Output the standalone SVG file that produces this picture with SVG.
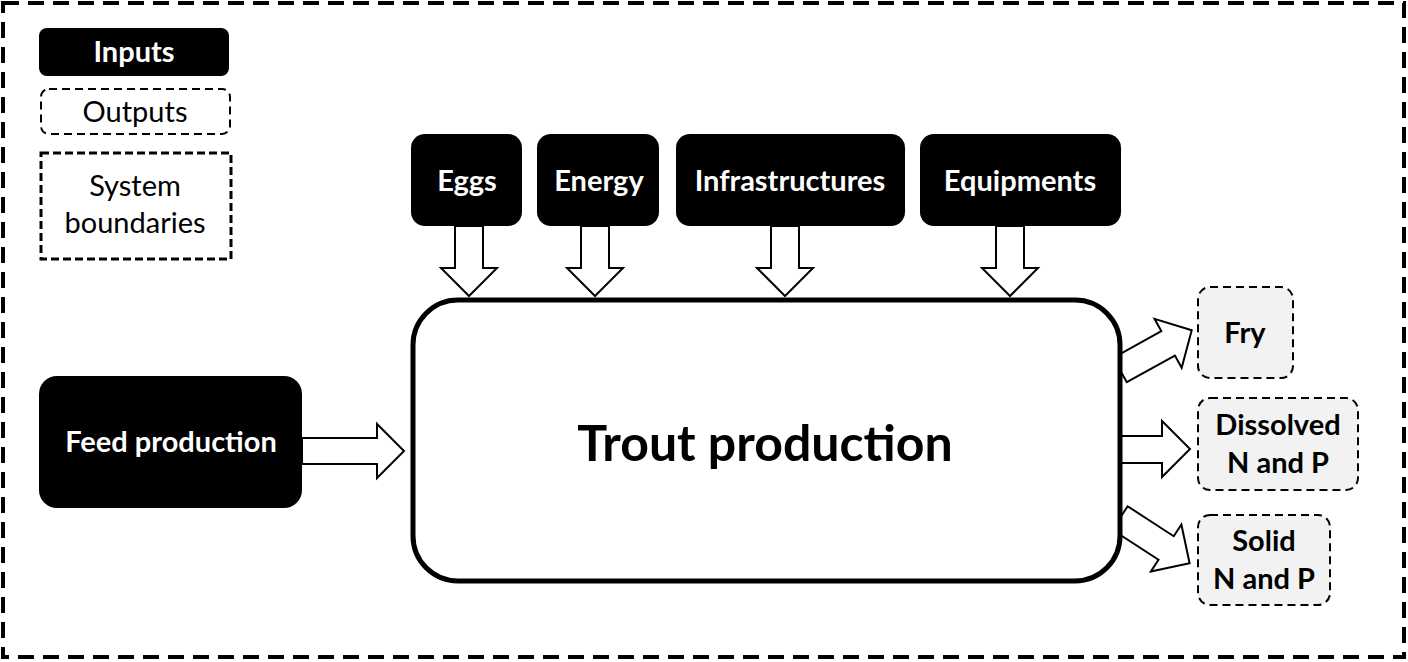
<svg xmlns="http://www.w3.org/2000/svg" width="1408" height="662" viewBox="0 0 1408 662">
<style>
.inp{fill:#000}
.out{fill:#f2f2f2;stroke:#000;stroke-width:2;stroke-dasharray:8 5}
.arr{fill:#fff;stroke:#000;stroke-width:2;stroke-linejoin:miter}
.tw{font-family:Lato,"Open Sans","Liberation Sans",sans-serif;font-weight:bold;fill:#fff;text-anchor:middle}
.tb{font-family:Lato,"Open Sans","Liberation Sans",sans-serif;font-weight:bold;fill:#000;text-anchor:middle}
.tn{font-family:Lato,"Open Sans","Liberation Sans",sans-serif;fill:#000;text-anchor:middle}
</style>
<defs>
<path id="ah" d="M0,-14 L42,-14 L42,-28 L70,0 L42,28 L42,14 L0,14 Z"/>
</defs>
<rect x="0" y="0" width="1408" height="662" fill="#fff"/>
<g id="boundary">
<rect x="3" y="3" width="1401" height="654" fill="none" stroke="#000" stroke-width="4" stroke-dasharray="16 9"/>
</g>
<g id="legend">
<rect x="39" y="28" width="190" height="48" rx="8" class="inp"/>
<text x="134" y="62" class="tw" font-size="29">Inputs</text>
<rect x="41" y="89" width="189" height="45" rx="8" fill="#fff" stroke="#000" stroke-width="2" stroke-dasharray="8 5"/>
<text x="135" y="122" class="tn" font-size="29">Outputs</text>
<rect x="41" y="153" width="190" height="106" fill="#fff" stroke="#000" stroke-width="3" stroke-dasharray="8 4"/>
<text x="135" y="196" class="tn" font-size="29">System</text>
<text x="135" y="233" class="tn" font-size="29">boundaries</text>
</g>
<g id="connectors">
<use href="#ah" class="arr" transform="translate(469,226) rotate(90)"/>
<use href="#ah" class="arr" transform="translate(595,226) rotate(90)"/>
<use href="#ah" class="arr" transform="translate(785,226) rotate(90)"/>
<use href="#ah" class="arr" transform="translate(1010,226) rotate(90)"/>
<path class="arr" d="M302,438 L377,438 L377,424 L404,451 L377,478 L377,464 L302,464 Z"/>
<path class="arr" d="M1120,436 L1162,436 L1162,421 L1190,449 L1162,477 L1162,463 L1120,463 Z"/>
<path class="arr" transform="translate(1120,370) rotate(-29)" d="M0,-14 L55,-14 L55,-28 L82,0 L55,28 L55,14 L0,14 Z"/>
<path class="arr" transform="translate(1120,518) rotate(33)" d="M0,-14 L55,-14 L55,-28 L83,0 L55,28 L55,14 L0,14 Z"/>
</g>
<g id="eggs">
<rect x="411" y="134" width="111" height="92" rx="14" class="inp"/>
<text x="467" y="191" class="tw" font-size="29">Eggs</text>
</g>
<g id="energy">
<rect x="537" y="134" width="122" height="92" rx="14" class="inp"/>
<text x="599" y="191" class="tw" font-size="29">Energy</text>
</g>
<g id="infrastructures">
<rect x="676" y="134" width="229" height="92" rx="14" class="inp"/>
<text x="790" y="191" class="tw" font-size="29">Infrastructures</text>
</g>
<g id="equipments">
<rect x="920" y="134" width="201" height="92" rx="14" class="inp"/>
<text x="1020" y="191" class="tw" font-size="29">Equipments</text>
</g>
<g id="feed">
<rect x="39" y="376" width="263" height="132" rx="18" class="inp"/>
<text x="171" y="452" class="tw" font-size="29">Feed production</text>
</g>
<g id="trout">
<rect x="413" y="300" width="707" height="281" rx="45" fill="#fff" stroke="#000" stroke-width="5"/>
<text x="765" y="461" class="tb" font-size="50">Trout production</text>
</g>
<g id="fry">
<rect x="1198" y="287" width="95" height="91" rx="12" class="out"/>
<text x="1245" y="343" class="tb" font-size="29">Fry</text>
</g>
<g id="dissolved">
<rect x="1198" y="398" width="160" height="92" rx="12" class="out"/>
<text x="1278" y="435" class="tb" font-size="29">Dissolved</text>
<text x="1278" y="473" class="tb" font-size="29">N and P</text>
</g>
<g id="solid">
<rect x="1198" y="515" width="132" height="90" rx="12" class="out"/>
<text x="1264" y="551" class="tb" font-size="29">Solid</text>
<text x="1264" y="589" class="tb" font-size="29">N and P</text>
</g>
</svg>
